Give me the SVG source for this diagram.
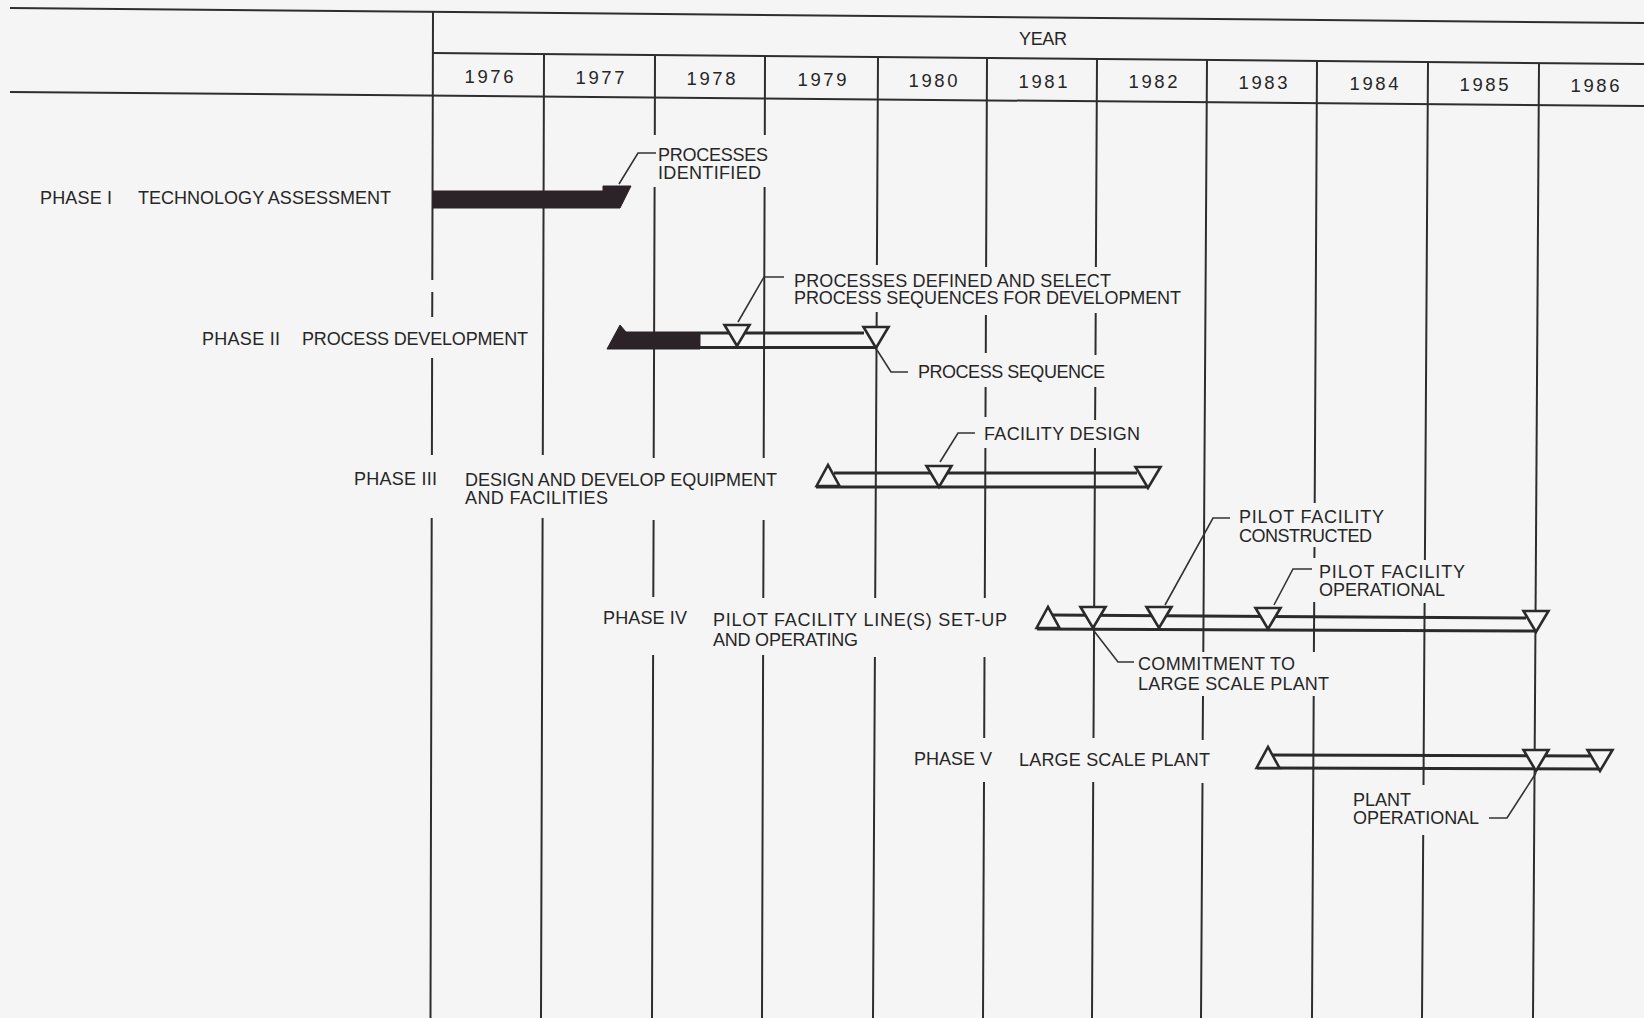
<svg xmlns="http://www.w3.org/2000/svg" xmlns:xlink="http://www.w3.org/1999/xlink" width="1644" height="1018" viewBox="0 0 1644 1018">
<style>
.grid{stroke:#2e2e2e;stroke-width:2;fill:none}
.bar{stroke:#2a2a2a;stroke-width:3;fill:none}
.tri{fill:#f5f5f5;stroke:#2a2a2a;stroke-width:2.6;stroke-linejoin:miter}
.solid{fill:#2b2327;stroke:#2b2327;stroke-width:1}
.lead{stroke:#333;stroke-width:1.6;fill:none}
text{font-family:"Liberation Sans",Arial,sans-serif;font-size:18px;fill:#262626}
.yr{font-size:18.5px}
</style>
<defs>
<path id="tdn" d="M-12.5,0 L12.5,0 L0,21 Z"/>
<path id="tup" d="M-11.5,0 L0,-21 L11.5,0 Z"/>
</defs>
<rect width="1644" height="1018" fill="#f5f5f5"/>
<g id="header">
<path class="grid" d="M10,8 L1644,23 M433,53 L1644,64 M10,92 L1644,106"/>
<text x="1019" y="45" textLength="48">YEAR</text>
<text class="yr" x="464.5" y="83" textLength="49">1976</text>
<text class="yr" x="575.5" y="84" textLength="49">1977</text>
<text class="yr" x="686.5" y="85" textLength="49">1978</text>
<text class="yr" x="797.5" y="85.5" textLength="49">1979</text>
<text class="yr" x="908.5" y="86.5" textLength="49">1980</text>
<text class="yr" x="1018.5" y="87.5" textLength="49">1981</text>
<text class="yr" x="1128.5" y="88" textLength="49">1982</text>
<text class="yr" x="1238.5" y="89" textLength="49">1983</text>
<text class="yr" x="1349.5" y="90" textLength="49">1984</text>
<text class="yr" x="1459.5" y="91" textLength="49">1985</text>
<text class="yr" x="1570.5" y="92" textLength="49">1986</text>
</g>
<g id="grid">
<path class="grid" d="M433,12 L432.3,280 M432.3,292 L432.2,317 M432.1,358 L431.9,455 M431.7,518 L430.5,1018"/>
<path class="grid" d="M544,54 L542.8,455 M542.6,518 L541,1018"/>
<path class="grid" d="M655,55 L654.8,135 M654.6,187 L653.7,458 M653.6,520 L653.3,597 M653.1,655 L652,1018"/>
<path class="grid" d="M765,56 L764.8,135 M764.6,187 L763.7,458 M763.6,520 L763.3,598 M763.1,655 L762,1018"/>
<path class="grid" d="M878,57 L876.9,265 M876.7,312 L875.2,598 M874.9,657 L873,1018"/>
<path class="grid" d="M987,58 L986.1,267 M985.9,315 L985.8,353 M985.6,387 L985.5,417 M985.4,448 L984.8,598 M984.5,657 L984.2,738 M984,782 L983,1018"/>
<path class="grid" d="M1097,59 L1095.9,267 M1095.7,313 L1095.5,355 M1095.3,387 L1095.1,420 M1095,448 L1093.5,738 M1093.2,782 L1092,1018"/>
<path class="grid" d="M1207,60 L1203.3,652 M1203,696 L1202.7,740 M1202.5,783 L1201,1018"/>
<path class="grid" d="M1317,61 L1314.7,503 M1314.5,547 L1314.4,558 M1314.2,602 L1313.9,652 M1313.7,696 L1312,1018"/>
<path class="grid" d="M1428,62 L1424.9,560 M1424.6,603 L1423.5,785 M1423.2,835 L1422,1018"/>
<path class="grid" d="M1539,63 L1533,1018"/>
</g>
<g id="phase1">
<text x="40" y="204" textLength="72">PHASE I</text>
<text x="138" y="204" textLength="253">TECHNOLOGY ASSESSMENT</text>
<polygon class="solid" points="433,191 603,191 603,186 631,186 620,208 433,208"/>
<text x="658" y="161" textLength="110">PROCESSES</text>
<text x="658" y="179" textLength="103">IDENTIFIED</text>
</g>
<g id="phase2">
<text x="202" y="345" textLength="78">PHASE II</text>
<text x="302" y="345" textLength="226">PROCESS DEVELOPMENT</text>
<path class="bar" d="M700,333 L864,333 M700,347.5 L876,347.5"/>
<polygon class="solid" points="607,349 620,325 626,332 700,332 700,349"/>
<use href="#tdn" class="tri" x="737" y="325"/>
<use href="#tdn" class="tri" x="876" y="327"/>
<text x="794" y="287" textLength="317">PROCESSES DEFINED AND SELECT</text>
<text x="794" y="304" textLength="387">PROCESS SEQUENCES FOR DEVELOPMENT</text>
<text x="918" y="378" textLength="187">PROCESS SEQUENCE</text>
</g>
<g id="phase3">
<text x="354" y="485" textLength="83">PHASE III</text>
<text x="465" y="486" textLength="312">DESIGN AND DEVELOP EQUIPMENT</text>
<text x="465" y="504" textLength="143">AND FACILITIES</text>
<path class="bar" d="M834,473 L1137,473 M816,487 L1148,487"/>
<use href="#tup" class="tri" x="828" y="486"/>
<use href="#tdn" class="tri" x="939" y="466"/>
<use href="#tdn" class="tri" x="1148" y="467"/>
<text x="984" y="440" textLength="156">FACILITY DESIGN</text>
</g>
<g id="phase4">
<text x="603" y="624" textLength="84">PHASE IV</text>
<text x="713" y="626" textLength="294">PILOT FACILITY LINE(S) SET-UP</text>
<text x="713" y="646" textLength="145">AND OPERATING</text>
<path class="bar" d="M1052,615 L1526,618 M1037,629 L1537,631"/>
<use href="#tup" class="tri" x="1048" y="628"/>
<use href="#tdn" class="tri" x="1093" y="607"/>
<use href="#tdn" class="tri" x="1159" y="607"/>
<use href="#tdn" class="tri" x="1268" y="608"/>
<use href="#tdn" class="tri" x="1536" y="611"/>
<text x="1239" y="523" textLength="145">PILOT FACILITY</text>
<text x="1239" y="542" textLength="133">CONSTRUCTED</text>
<text x="1319" y="578" textLength="146">PILOT FACILITY</text>
<text x="1319" y="596" textLength="126">OPERATIONAL</text>
<text x="1138" y="670" textLength="157">COMMITMENT TO</text>
<text x="1138" y="690" textLength="191">LARGE SCALE PLANT</text>
</g>
<g id="phase5">
<text x="914" y="765" textLength="78">PHASE V</text>
<text x="1019" y="766" textLength="191">LARGE SCALE PLANT</text>
<path class="bar" d="M1272,755 L1590,756 M1257,768 L1601,769"/>
<use href="#tup" class="tri" x="1268" y="768"/>
<use href="#tdn" class="tri" x="1536" y="750"/>
<use href="#tdn" class="tri" x="1600" y="750"/>
<text x="1353" y="806" textLength="58">PLANT</text>
<text x="1353" y="824" textLength="126">OPERATIONAL</text>
</g>
<g id="connectors">
<path class="lead" d="M656,153 L638,153 L619,184"/>
<path class="lead" d="M784,277 L764,277 L738,322"/>
<path class="lead" d="M877,350 L891,372 L908,372"/>
<path class="lead" d="M940,462 L958,433 L975,433"/>
<path class="lead" d="M1094,631 L1118,662 L1134,662"/>
<path class="lead" d="M1165,605 L1213,518 L1230,518"/>
<path class="lead" d="M1274,605 L1293,569 L1312,569"/>
<path class="lead" d="M1536,773 L1507,818 L1489,818"/>
</g>
</svg>
